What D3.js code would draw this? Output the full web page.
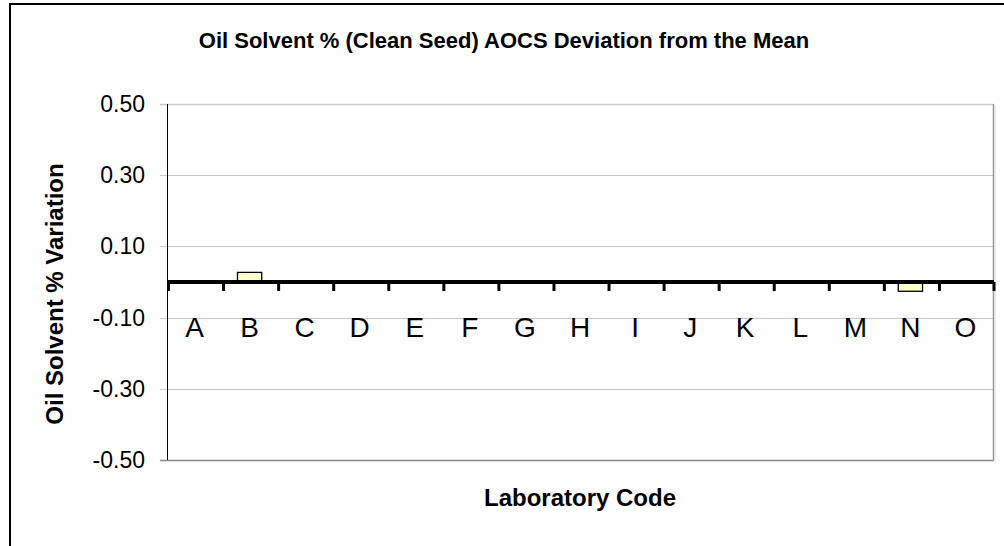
<!DOCTYPE html>
<html>
<head>
<meta charset="utf-8">
<script src="https://cdn.jsdelivr.net/npm/d3@7"></script>
<style>
  body { margin: 0; background: #fff; }
  svg { display: block; font-family: Arial, "Liberation Sans", sans-serif; }
</style>
</head>
<body>
<div id="app"></div>
<script>
const labs = ['A', 'B', 'C', 'D', 'E', 'F', 'G', 'H', 'I', 'J', 'K', 'L', 'M', 'N', 'O'];
const deviation = [0, 0.027, 0, 0, 0, 0, 0, 0, 0, 0, 0, 0, 0, -0.026, 0];
const yTicks = [0.5, 0.3, 0.1, -0.1, -0.3, -0.5];

const width = 1004;
const height = 546;
const plot = { left: 167, right: 993, top: 104, bottom: 460 };

const svg = d3.select('#app').append('svg')
  .attr('width', width)
  .attr('height', height);

// chart frame, cut off at right and bottom like the source
svg.append('rect')
  .attr('x', 10).attr('y', 4)
  .attr('width', 1010).attr('height', 560)
  .attr('fill', '#fff')
  .attr('stroke', '#000')
  .attr('stroke-width', 2);

const x = d3.scaleBand()
  .domain(labs)
  .range([plot.left, plot.right]);

const y = d3.scaleLinear()
  .domain([-0.5, 0.5])
  .range([plot.bottom, plot.top]);

// gridlines + outside tick marks
svg.append('g')
  .selectAll('line')
  .data(yTicks)
  .join('line')
  .attr('x1', plot.left - 7)
  .attr('x2', plot.right)
  .attr('y1', d => Math.round(y(d)) + 0.5)
  .attr('y2', d => Math.round(y(d)) + 0.5)
  .attr('stroke', d => d === -0.5 ? '#888' : '#c8c8c8')
  .attr('stroke-width', d => d === -0.5 || d === 0.5 ? 1.5 : 1);

// plot area right border with light shadow
svg.append('line')
  .attr('x1', plot.right + 0.5).attr('x2', plot.right + 0.5)
  .attr('y1', plot.top).attr('y2', plot.bottom + 1)
  .attr('stroke', '#999').attr('stroke-width', 1.5);
svg.append('line')
  .attr('x1', plot.right + 2).attr('x2', plot.right + 2)
  .attr('y1', plot.top + 2).attr('y2', plot.bottom + 2)
  .attr('stroke', '#ddd').attr('stroke-width', 1);

const fmt = d => d3.format('.2f')(d).replace('\u2212', '-');

svg.append('g')
  .selectAll('text')
  .data(yTicks)
  .join('text')
  .attr('x', 145)
  .attr('y', d => y(d) + 2)
  .attr('text-anchor', 'end')
  .attr('dominant-baseline', 'middle')
  .attr('font-size', 23)
  .text(fmt);

// value axis line
svg.append('line')
  .attr('x1', plot.left + 0.5).attr('x2', plot.left + 0.5)
  .attr('y1', plot.top).attr('y2', plot.bottom)
  .attr('stroke', '#000').attr('stroke-width', 1);

const barW = x.bandwidth() * 0.44;

svg.append('g')
  .selectAll('rect')
  .data(labs.map((lab, i) => ({ lab, v: deviation[i] })).filter(d => d.v !== 0))
  .join('rect')
  .attr('x', d => x(d.lab) + (x.bandwidth() - barW) / 2)
  .attr('y', d => y(Math.max(0, d.v)))
  .attr('width', barW)
  .attr('height', d => Math.abs(y(d.v) - y(0)))
  .attr('fill', '#ffffcc')
  .attr('stroke', '#000')
  .attr('stroke-width', 1.3);

// category axis sits on zero
const zeroY = y(0);
svg.append('line')
  .attr('x1', plot.left).attr('x2', plot.right + 1)
  .attr('y1', zeroY).attr('y2', zeroY)
  .attr('stroke', '#000').attr('stroke-width', 4);

svg.append('g')
  .selectAll('line')
  .data(labs.map(d => x(d)).concat([plot.right - 0.5]))
  .join('line')
  .attr('x1', d => d + 1.5).attr('x2', d => d + 1.5)
  .attr('y1', zeroY).attr('y2', zeroY + 9)
  .attr('stroke', '#000').attr('stroke-width', 3);

svg.append('g')
  .selectAll('text')
  .data(labs)
  .join('text')
  .attr('x', d => x(d) + x.bandwidth() / 2)
  .attr('y', 337)
  .attr('text-anchor', 'middle')
  .attr('font-size', 28)
  .text(d => d);

svg.append('text')
  .attr('x', 504).attr('y', 48)
  .attr('text-anchor', 'middle')
  .attr('font-size', 22)
  .attr('font-weight', 'bold')
  .text('Oil Solvent % (Clean Seed) AOCS Deviation from the Mean');

svg.append('text')
  .attr('x', (plot.left + plot.right) / 2).attr('y', 506)
  .attr('text-anchor', 'middle')
  .attr('font-size', 24)
  .attr('font-weight', 'bold')
  .text('Laboratory Code');

svg.append('text')
  .attr('transform', `translate(63,${(plot.top + plot.bottom) / 2 + 12}) rotate(-90)`)
  .attr('text-anchor', 'middle')
  .attr('font-size', 24)
  .attr('font-weight', 'bold')
  .text('Oil Solvent % Variation');
</script>
</body>
</html>
